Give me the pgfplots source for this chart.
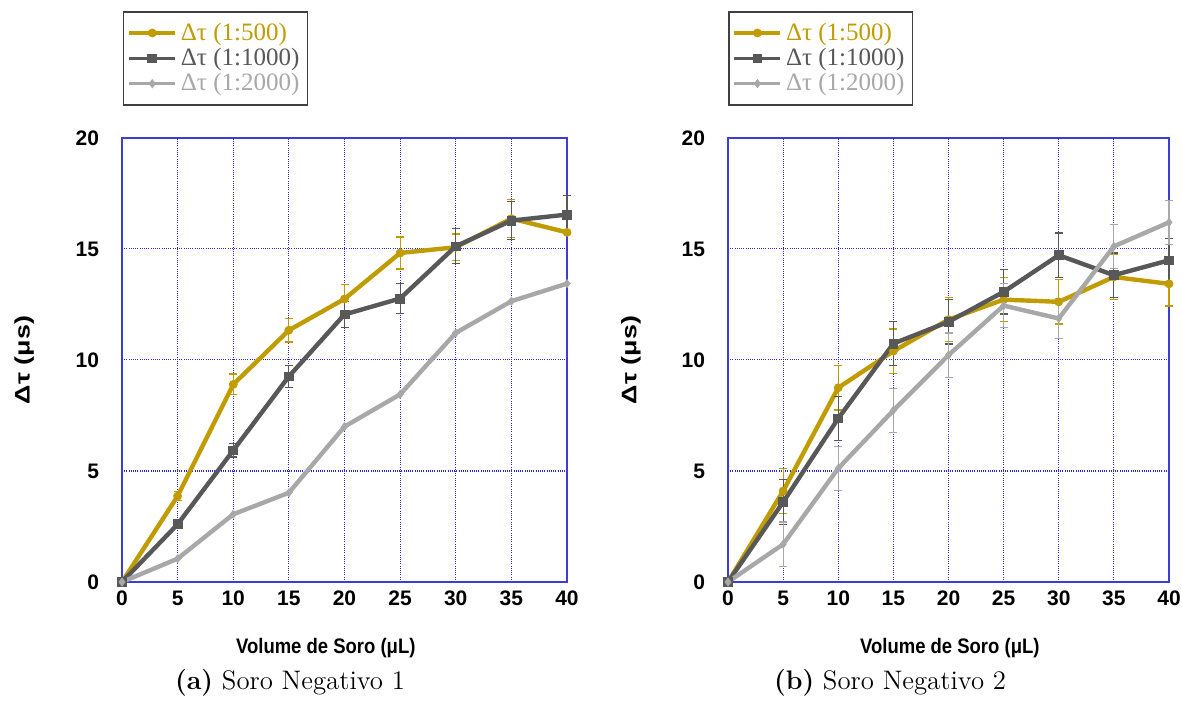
\documentclass[border=0pt]{standalone}
\usepackage{fontspec}
\usepackage{pgfplots}
\pgfplotsset{compat=1.18}
\newfontfamily\arial{Liberation Sans}
\newfontfamily\tnr{Liberation Serif}
\definecolor{gold}{RGB}{193,156,0}
\definecolor{dgray}{RGB}{88,88,88}
\definecolor{lgray}{RGB}{168,168,168}
\definecolor{gridblue}{RGB}{40,40,210}
\definecolor{frameblue}{RGB}{60,60,215}

\pgfplotsset{
  panel/.style={
    scale only axis, width=222.5pt, height=222pt,
    xmin=0, xmax=40, ymin=0, ymax=20,
    xtick={0,5,...,40}, ytick={0,5,...,20},
    grid=major,
    grid style={gridblue, dash pattern=on 0.5pt off 0.6pt, line width=0.5pt},
    axis line style={frameblue, line width=0.8pt},
    major tick length=0pt,
    clip=false,
    /pgf/number format/assume math mode=true,
    ticklabel style={font=\arial\bfseries\fontsize{10.5}{12}\selectfont},
    yticklabel style={xshift=-8pt},
    xticklabel style={yshift=-1pt},
    xlabel={\scalebox{0.88}[1]{Volume de Soro (μL)}},
    ylabel={\scalebox{1.28}[1]{Δτ (μs)}},
    label style={font=\arial\bfseries\fontsize{10.5}{12}\selectfont},
    ylabel style={at={(axis description cs:-0.22,0.5)}, anchor=center},
    legend style={draw=black!75, line width=0.8pt,
      font=\tnr\fontsize{12.5}{14}\selectfont,
      row sep=-1.5pt, inner ysep=3.5pt, inner xsep=2pt, anchor=north west},
    legend cell align=left,
    legend image code/.code={
      \draw[#1, line width=1.6pt, mark repeat=2, mark phase=2]
        plot coordinates {(0pt,0pt)(11.5pt,0pt)(23pt,0pt)};},
    error bars/y dir=both, error bars/y explicit,
    error bars/error mark options={rotate=90, mark size=2pt, line width=0.6pt},
  },
  s500/.style={gold, line width=2.2pt, mark=*, mark size=2pt,
    mark options={solid, line width=0.4pt},
    error bars/error bar style={gold, line width=0.6pt}},
  s1000/.style={dgray, line width=2.2pt, mark=square*, mark size=2.2pt,
    mark options={solid, line width=0.4pt},
    error bars/error bar style={dgray, line width=0.6pt}},
  s2000/.style={lgray, line width=2.2pt, mark=diamond*, mark size=2pt,
    mark options={solid, line width=0.4pt},
    error bars/error bar style={lgray, line width=0.6pt}},
}

\begin{document}
\begin{tikzpicture}
\useasboundingbox (0,0) rectangle (591pt,-352pt);

% (a) Soro Negativo 1
\begin{axis}[panel, at={(61pt,-291pt)}, anchor=south west,
  xlabel style={at={(axis description cs:0.458,-0.149)}, anchor=center},
  legend style={at={(axis description cs:0.002,1.286)}}]
  \addplot[s500] coordinates {
    (0,0) +- (0,0) (5,3.87) +- (0,0.2) (10,8.9) +- (0,0.47) (15,11.34) +- (0,0.53)
    (20,12.75) +- (0,0.64) (25,14.82) +- (0,0.72) (30,15.08) +- (0,0.6)
    (35,16.37) +- (0,0.85) (40,15.75) +- (0,0)
  };
  \addlegendentry{\textcolor{gold}{Δτ (1:500)}}
  \addplot[s1000] coordinates {
    (0,0) +- (0,0) (5,2.6) +- (0,0.15) (10,5.93) +- (0,0.3) (15,9.26) +- (0,0.5)
    (20,12.05) +- (0,0.6) (25,12.77) +- (0,0.66) (30,15.12) +- (0,0.79)
    (35,16.28) +- (0,0.86) (40,16.55) +- (0,0.85)
  };
  \addlegendentry{\textcolor{dgray}{Δτ (1:1000)}}
  \addplot[s2000] coordinates {
    (0,0) +- (0,0) (5,1.05) +- (0,0) (10,3.05) +- (0,0) (15,4.02) +- (0,0)
    (20,7.0) +- (0,0) (25,8.45) +- (0,0) (30,11.22) +- (0,0)
    (35,12.65) +- (0,0) (40,13.44) +- (0,0)
  };
  \addlegendentry{\textcolor{lgray}{Δτ (1:2000)}}
\end{axis}

% (b) Soro Negativo 2
\begin{axis}[panel, at={(364pt,-291pt)}, anchor=south west, width=220.5pt,
  xlabel style={at={(axis description cs:0.503,-0.149)}, anchor=center},
  legend style={at={(axis description cs:0.0,1.286)}}]
  \addplot[s500] coordinates {
    (0,0) +- (0,0) (5,4.1) +- (0,1.0) (10,8.75) +- (0,1.0) (15,10.4) +- (0,1.0)
    (20,11.82) +- (0,1.0) (25,12.72) +- (0,1.0) (30,12.62) +- (0,1.0)
    (35,13.74) +- (0,1.0) (40,13.43) +- (0,1.0)
  };
  \addlegendentry{\textcolor{gold}{Δτ (1:500)}}
  \addplot[s1000] coordinates {
    (0,0) +- (0,0) (5,3.6) +- (0,1.0) (10,7.37) +- (0,1.0) (15,10.74) +- (0,1.0)
    (20,11.72) +- (0,1.0) (25,13.07) +- (0,1.0) (30,14.72) +- (0,1.0)
    (35,13.82) +- (0,1.0) (40,14.49) +- (0,1.0)
  };
  \addlegendentry{\textcolor{dgray}{Δτ (1:1000)}}
  \addplot[s2000] coordinates {
    (0,0) +- (0,0) (5,1.7) +- (0,1.0) (10,5.12) +- (0,1.0) (15,7.73) +- (0,1.0)
    (20,10.22) +- (0,1.0) (25,12.45) +- (0,1.0) (30,11.87) +- (0,0.9)
    (35,15.12) +- (0,1.0) (40,16.2) +- (0,1.0)
  };
  \addlegendentry{\textcolor{lgray}{Δτ (1:2000)}}
\end{axis}

\node at (145pt,-341.5pt) {\fontsize{13.4}{15}\selectfont\textbf{(a)} Soro Negativo 1};
\node at (445pt,-341.5pt) {\fontsize{13.4}{15}\selectfont\textbf{(b)} Soro Negativo 2};
\end{tikzpicture}
\end{document}
